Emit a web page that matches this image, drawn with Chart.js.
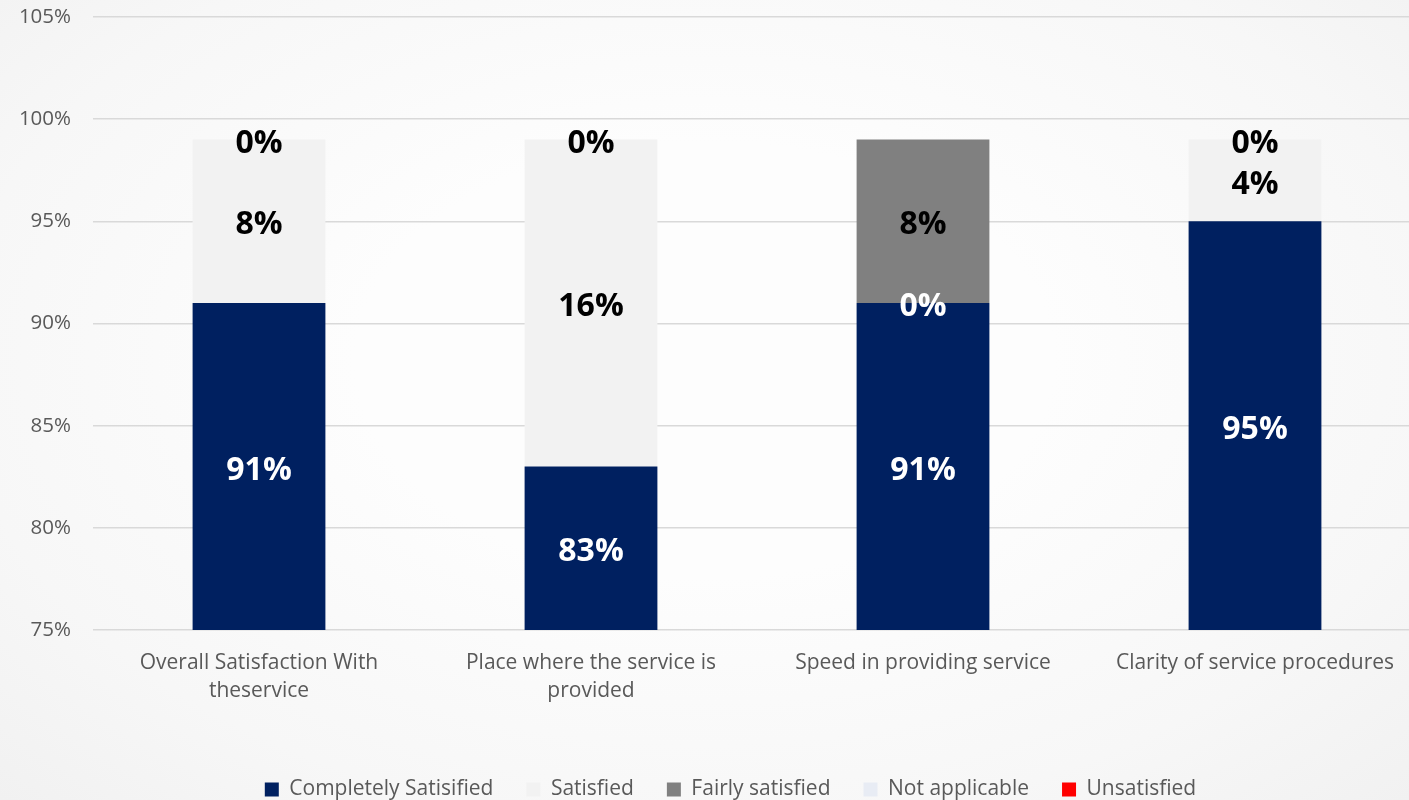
<!DOCTYPE html>
<html>
<head>
<meta charset="utf-8">
<title>Service satisfaction</title>
<script src="https://cdn.jsdelivr.net/npm/chart.js@4.4.1/dist/chart.umd.min.js"></script>
<style>
    html, body {
        margin: 0;
        padding: 0;
        width: 1409px;
        height: 800px;
        overflow: hidden;
        background: radial-gradient(ellipse at 50% 45%, #fdfdfd 35%, #f7f7f7 75%, #f1f1f1 100%);
    }
    canvas {
        display: block;
    }
</style>
</head>
<body>
<canvas id="satisfactionChart" width="1421" height="800"></canvas>
<script>
// Survey results per question (percent of respondents)
const categories = [
    ['Overall Satisfaction With', 'theservice'],
    ['Place where the service is', 'provided'],
    ['Speed in providing service'],
    ['Clarity of service procedures']
];
const completelySatisfied = [91, 83, 91, 95];
const satisfied = [8, 16, 0, 4];
const fairlySatisfied = [0, 0, 8, 0];
const notApplicable = [null, null, null, null];
const unsatisfied = [null, null, null, null];

const yMin = 75;
const yMax = 105;
const yStep = 5;

const textGrey = '#595959';

// Draws the percentage in the middle of the visible part of each segment
const valueLabels = {
    id: 'valueLabels',
    afterDatasetsDraw(chart) {
        const { ctx, chartArea } = chart;
        ctx.save();
        ctx.font = 'bold 32px "Open Sans"';
        ctx.textAlign = 'center';
        ctx.textBaseline = 'middle';
        chart.data.datasets.forEach((ds, i) => {
            const meta = chart.getDatasetMeta(i);
            if (meta.hidden) return;
            meta.data.forEach((bar, j) => {
                const v = ds.data[j];
                if (v === null || v === undefined) return;
                const top = Math.max(Math.min(bar.y, bar.base), chartArea.top);
                const bottom = Math.min(Math.max(bar.y, bar.base), chartArea.bottom);
                ctx.fillStyle = ds.labelColors[j];
                // +4 keeps the digits optically centred
                ctx.fillText(v + '%', bar.x, (top + bottom) / 2 + 4);
            });
        });
        ctx.restore();
    }
};

// Nudge the legend so it sits under the middle of the page
const legendOffset = {
    id: 'legendOffset',
    afterLayout(chart) {
        const lg = chart.legend;
        if (!lg) return;
        lg.left += 20;
        lg.right += 20;
        lg.top += 10;
        lg.bottom += 10;
    }
};

function initializeChart() {
    const ctx = document.getElementById('satisfactionChart').getContext('2d');

    new Chart(ctx, {
        type: 'bar',
        data: {
            labels: categories,
            datasets: [
                {
                    label: 'Completely Satisified',
                    data: completelySatisfied,
                    backgroundColor: '#002060',
                    labelColors: ['#fff', '#fff', '#fff', '#fff']
                },
                {
                    label: 'Satisfied',
                    data: satisfied,
                    backgroundColor: '#f2f2f2',
                    labelColors: ['#000', '#000', '#fff', '#000']
                },
                {
                    label: 'Fairly satisfied',
                    data: fairlySatisfied,
                    backgroundColor: '#808080',
                    labelColors: ['#000', '#000', '#000', '#000']
                },
                {
                    label: 'Not applicable',
                    data: notApplicable,
                    backgroundColor: '#e8ecf4',
                    labelColors: ['#000', '#000', '#000', '#000']
                },
                {
                    label: 'Unsatisfied',
                    data: unsatisfied,
                    backgroundColor: '#ff0000',
                    labelColors: ['#000', '#000', '#000', '#000']
                }
            ]
        },
        options: {
            responsive: false,
            animation: false,
            datasets: {
                bar: {
                    barPercentage: 0.4,
                    categoryPercentage: 1.0,
                    borderWidth: 0
                }
            },
            layout: {
                padding: { top: 17, right: 0, left: 0, bottom: 0 }
            },
            scales: {
                x: {
                    stacked: true,
                    grid: { display: false },
                    border: { display: false },
                    ticks: {
                        color: textGrey,
                        font: { family: '"Open Sans"', size: 21, lineHeight: 1.333 },
                        padding: 11,
                        maxRotation: 0,
                        autoSkip: false
                    },
                    afterFit(scale) {
                        scale.height = 106;
                    }
                },
                y: {
                    stacked: true,
                    min: yMin,
                    max: yMax,
                    grid: {
                        color: '#d9d9d9',
                        lineWidth: 1.6,
                        drawTicks: false
                    },
                    border: { display: false },
                    ticks: {
                        stepSize: yStep,
                        color: textGrey,
                        font: { family: '"Open Sans"', size: 20.5 },
                        padding: 22,
                        callback: v => v + '%'
                    },
                    afterFit(scale) {
                        scale.width = 93;
                        // tick padding would otherwise push the plot top down
                        scale.paddingTop = 0;
                        scale.paddingBottom = 0;
                    }
                }
            },
            plugins: {
                tooltip: { enabled: false },
                legend: {
                    position: 'bottom',
                    labels: {
                        boxWidth: 14,
                        boxHeight: 14,
                        padding: 33,
                        color: textGrey,
                        font: { family: '"Open Sans"', size: 21 }
                    }
                }
            }
        },
        plugins: [valueLabels, legendOffset]
    });
}

document.addEventListener('DOMContentLoaded', initializeChart);
</script>
</body>
</html>
